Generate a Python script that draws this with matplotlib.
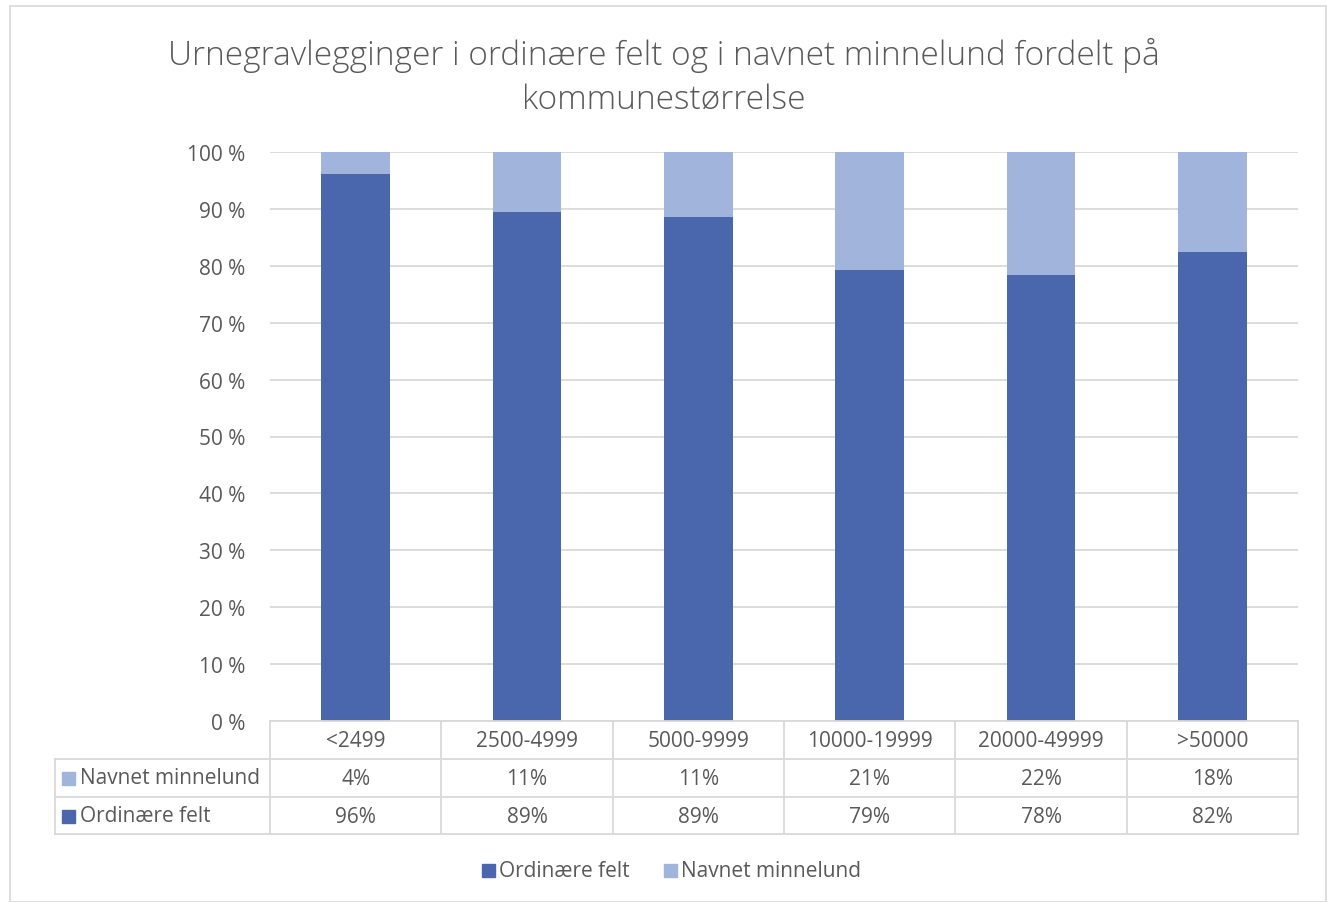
import matplotlib
matplotlib.use("Agg")
import matplotlib.pyplot as plt
from matplotlib.patches import Rectangle
import numpy as np

categories = ["<2499", "2500-4999", "5000-9999", "10000-19999", "20000-49999", ">50000"]
ordinaere = [96.2, 89.4, 88.6, 79.3, 78.4, 82.4]
navnet = [3.8, 10.6, 11.4, 20.7, 21.6, 17.6]
ordinaere_labels = ["96%", "89%", "89%", "79%", "78%", "82%"]
navnet_labels = ["4%", "11%", "11%", "21%", "22%", "18%"]
yticks = [0, 10, 20, 30, 40, 50, 60, 70, 80, 90, 100]
title = "Urnegravlegginger i ordinære felt og i navnet minnelund fordelt på\nkommunestørrelse"

DARK = "#4A66AC"
LIGHT = "#A0B4DC"
TXT = "#595959"
GRID = "#D9D9D9"
FS = 15

plt.rcParams['font.family'] = ['Open Sans', 'DejaVu Sans']

W, H = 1328, 903
fig = plt.figure(figsize=(W / 100, H / 100), dpi=100)

def fx(px):
    return px / W

def fy(py):
    return 1 - py / H

# outer border
fig.patches.append(Rectangle((fx(10), fy(903)), fx(1326) - fx(10), fy(7) - fy(903),
                             transform=fig.transFigure, fill=False, edgecolor=GRID, lw=1.2))

ax = fig.add_axes([fx(270), fy(722), fx(1298) - fx(270), fy(153) - fy(722)])
x = np.arange(len(categories))
ax.bar(x, ordinaere, width=0.4, color=DARK, zorder=3)
ax.bar(x, navnet, width=0.4, bottom=ordinaere, color=LIGHT, zorder=3)
ax.set_xlim(-0.5, len(categories) - 0.5)
ax.set_ylim(0, 100)
ax.set_yticks(yticks)
ax.set_yticklabels([f"{v} %" for v in yticks], color=TXT, fontsize=FS)
ax.tick_params(axis='y', length=0, pad=17.5)
ax.set_xticks([])
for s in ax.spines.values():
    s.set_visible(False)
ax.yaxis.grid(True, color=GRID, lw=1.3, zorder=0)
ax.set_axisbelow(True)

fig.text(0.5, fy(77), title, ha='center', va='center', fontsize=24, color=TXT,
         fontweight='light', linespacing=1.4)

# data table (pixel layout)
col_edges = [270 + i * (1298 - 270) / len(categories) for i in range(len(categories) + 1)]
row_y = [722, 760, 798, 835]
lc = GRID
lw = 1.3
def hline(y, x0, x1):
    fig.add_artist(plt.Line2D([fx(x0), fx(x1)], [fy(y), fy(y)], color=lc, lw=lw, transform=fig.transFigure))
def vline(xx, y0, y1):
    fig.add_artist(plt.Line2D([fx(xx), fx(xx)], [fy(y0), fy(y1)], color=lc, lw=lw, transform=fig.transFigure))

hline(722, 270, 1298)
for yy in row_y[1:]:
    hline(yy, 55, 1298)
for xx in col_edges:
    vline(xx, 722, 835)
vline(55, 760, 835)

for i, c in enumerate(categories):
    cx = (col_edges[i] + col_edges[i + 1]) / 2
    fig.text(fx(cx), fy(742), c, ha='center', va='center', fontsize=FS, color=TXT)
    fig.text(fx(cx), fy(780), navnet_labels[i], ha='center', va='center', fontsize=FS, color=TXT)
    fig.text(fx(cx), fy(818), ordinaere_labels[i], ha='center', va='center', fontsize=FS, color=TXT)

for yc, name, col in [(779, "Navnet minnelund", LIGHT), (817, "Ordinære felt", DARK)]:
    fig.patches.append(Rectangle((fx(62), fy(yc + 6.5)), fx(13), fy(0) - fy(13),
                                 transform=fig.transFigure, color=col))
    fig.text(fx(80), fy(yc), name, ha='left', va='center', fontsize=FS, color=TXT)

# legend
for x0, name, col in [(482, "Ordinære felt", DARK), (664, "Navnet minnelund", LIGHT)]:
    fig.patches.append(Rectangle((fx(x0), fy(878)), fx(13), fy(0) - fy(13),
                                 transform=fig.transFigure, color=col))
    fig.text(fx(x0 + 17), fy(872), name, ha='left', va='center', fontsize=FS, color=TXT)

fig.savefig("out.png", dpi=100, facecolor='white')
